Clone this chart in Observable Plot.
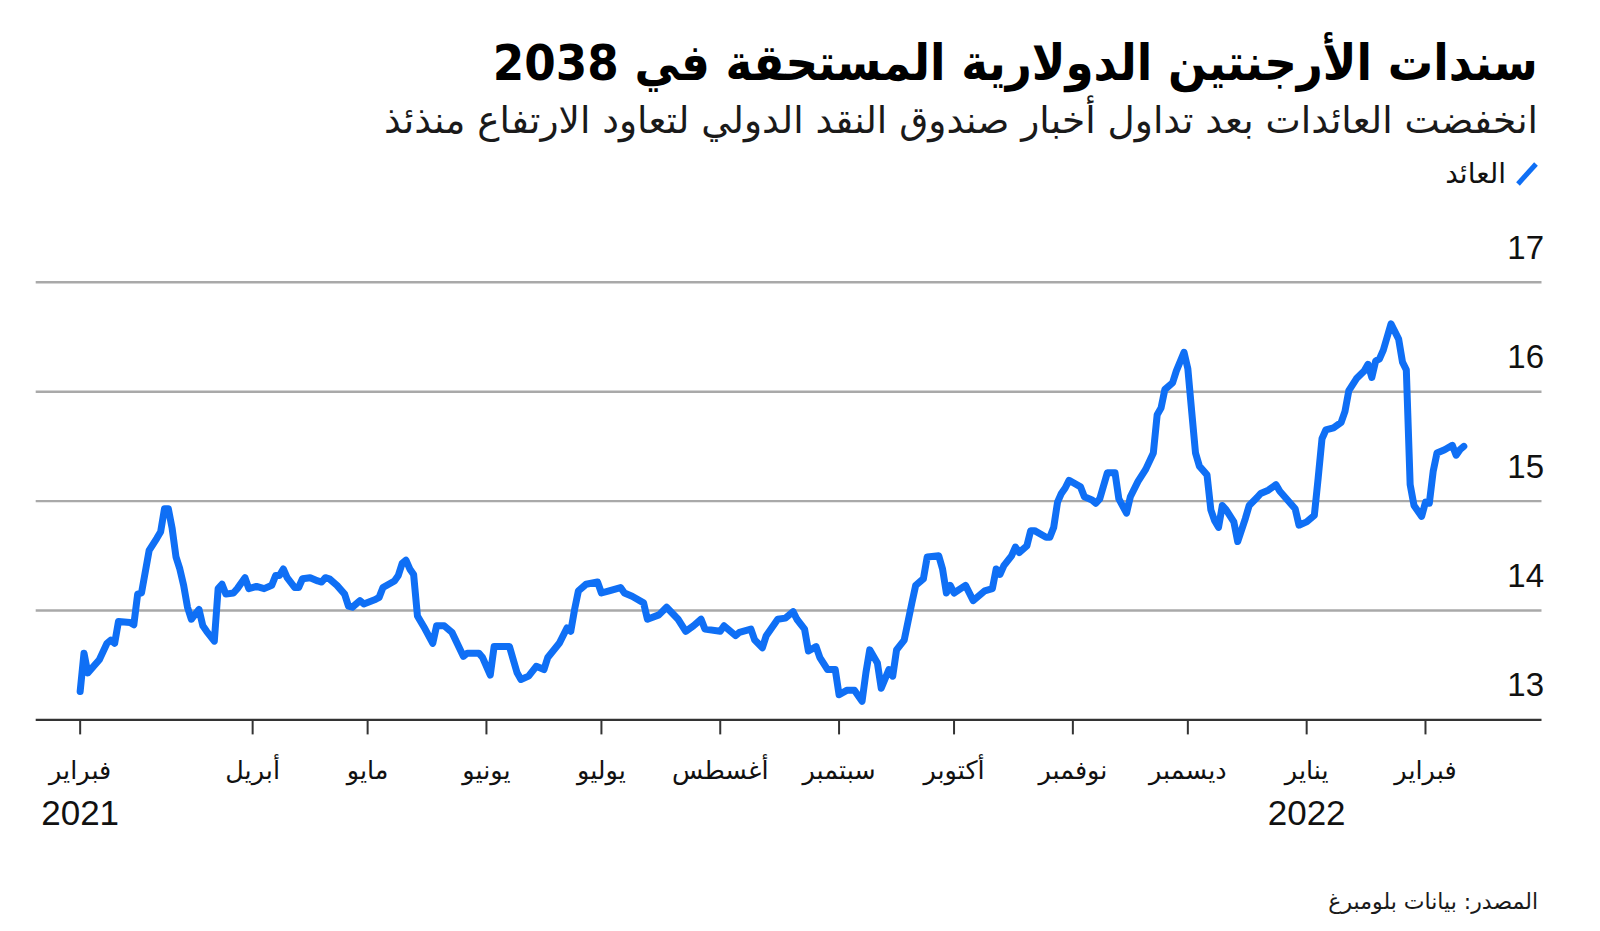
<!DOCTYPE html>
<html><head><meta charset="utf-8">
<script src="https://cdn.jsdelivr.net/npm/d3@7"></script>
<script src="https://cdn.jsdelivr.net/npm/@observablehq/plot@0.6"></script>
<style>
body{margin:0;background:#fff;font-family:"DejaVu Sans",sans-serif;}
#wrap{position:relative;width:1600px;height:931px;overflow:hidden;background:#fff;}
.t{position:absolute;right:62px;white-space:nowrap;direction:rtl;line-height:1;}
#title{top:38px;font-size:50px;font-weight:bold;color:#000;transform:scaleX(0.905);transform-origin:right center;}
#subtitle{top:102px;font-size:37.5px;color:#1a1a1a;}
#legend{top:160px;font-size:28px;color:#111;display:flex;align-items:center;gap:10px;}
#caption{top:891px;font-size:22px;color:#1a1a1a;}
#chart{position:absolute;left:0;top:200px;}
</style></head>
<body>
<div id="wrap">
  <div id="title" class="t">سندات الأرجنتين الدولارية المستحقة في 2038</div>
  <div id="subtitle" class="t">انخفضت العائدات بعد تداول أخبار صندوق النقد الدولي لتعاود الارتفاع منذئذ</div>
  <div id="legend" class="t"><svg width="22" height="24"><line x1="2" y1="22" x2="20" y2="2" stroke="#0f6ff5" stroke-width="5"/></svg><span>العائد</span></div>
  <div id="chart"></div>
  <div id="caption" class="t">المصدر: بيانات بلومبرغ</div>
</div>
<script>
// days since 15 Feb 2021
const startDate = "2021-02-15";
const dayOffsets = [0,1,2,5,7,8,9,10,13,14,15,16,18,20,21,22,23,24,25,26,27,28,29,31,32,33,35,36,37,38,40,41,43,44,46,48,50,51,52,53,54,56,57,58,60,62,63,64,65,67,69,70,71,73,74,77,78,79,82,83,84,85,86,87,88,90,92,93,95,97,100,101,104,105,107,108,112,114,115,117,119,121,122,125,127,128,129,130,132,135,136,138,141,142,144,147,148,151,153,156,158,160,162,163,167,168,171,172,175,176,178,179,182,184,186,187,189,190,192,193,195,197,198,200,202,204,205,206,208,209,211,212,213,215,217,218,220,221,224,225,226,227,228,231,233,236,238,239,240,241,243,244,245,247,248,249,252,253,254,255,256,257,258,261,262,264,265,266,268,270,271,273,274,276,278,280,281,282,283,285,286,288,289,290,291,292,294,295,296,297,298,299,301,302,304,305,307,308,310,312,313,315,317,318,320,322,323,324,325,327,329,330,331,333,335,336,337,338,339,340,342,344,345,346,347,348,350,351,352,353,354,356,358,359,360,361];
const yields = [13.26,13.61,13.43,13.55,13.70,13.73,13.70,13.90,13.89,13.87,14.15,14.16,14.55,14.66,14.72,14.93,14.93,14.75,14.49,14.38,14.23,14.03,13.92,14.01,13.86,13.81,13.72,14.20,14.24,14.15,14.16,14.20,14.30,14.20,14.22,14.20,14.23,14.32,14.32,14.38,14.30,14.21,14.21,14.29,14.30,14.27,14.26,14.30,14.29,14.23,14.15,14.04,14.03,14.09,14.06,14.10,14.12,14.21,14.27,14.32,14.43,14.46,14.38,14.33,13.95,13.83,13.70,13.86,13.86,13.80,13.58,13.61,13.61,13.57,13.41,13.67,13.67,13.43,13.37,13.40,13.49,13.46,13.57,13.70,13.84,13.81,14.01,14.18,14.24,14.26,14.16,14.18,14.21,14.16,14.13,14.07,13.92,13.96,14.03,13.92,13.81,13.86,13.92,13.83,13.81,13.86,13.77,13.80,13.83,13.73,13.66,13.77,13.92,13.93,13.99,13.92,13.83,13.63,13.67,13.57,13.46,13.46,13.23,13.27,13.27,13.17,13.43,13.64,13.52,13.29,13.46,13.40,13.64,13.73,14.07,14.23,14.29,14.49,14.50,14.38,14.16,14.23,14.16,14.23,14.09,14.18,14.20,14.38,14.33,14.41,14.50,14.58,14.53,14.59,14.73,14.73,14.67,14.67,14.76,14.99,15.07,15.12,15.19,15.13,15.04,15.01,14.98,15.02,15.26,15.26,15.02,14.89,15.04,15.18,15.29,15.44,15.79,15.85,16.02,16.08,16.19,16.36,16.21,15.82,15.44,15.32,15.24,14.92,14.82,14.76,14.96,14.92,14.81,14.63,14.84,14.96,15.03,15.07,15.10,15.15,15.09,15.01,14.93,14.78,14.81,14.87,15.21,15.57,15.65,15.67,15.72,15.82,16.01,16.12,16.19,16.25,16.13,16.28,16.30,16.38,16.62,16.48,16.27,16.20,15.15,14.96,14.86,14.99,14.98,15.27,15.44,15.47,15.51,15.42,15.47,15.50];

const monthTickDates = ["2021-02-15","2021-04-01","2021-05-01","2021-06-01","2021-07-01","2021-08-01","2021-09-01","2021-10-01","2021-11-01","2021-12-01","2022-01-01","2022-02-01"];
const monthLabels = ["فبراير","أبريل","مايو","يونيو","يوليو","أغسطس","سبتمبر","أكتوبر","نوفمبر","ديسمبر","يناير","فبراير"];
const yearTickDates = ["2021-02-15","2022-01-01"];
const yearLabels = ["2021","2022"];
const yTicks = [13,14,15,16,17];
const gridValues = [14,15,16,17];

const t0 = new Date(startDate + "T00:00:00Z").getTime();
const data = dayOffsets.map((d, i) => ({date: new Date(t0 + d * 864e5), value: yields[i]}));
const monthMap = new Map(monthTickDates.map((d, i) => [+new Date(d + "T00:00:00Z"), monthLabels[i]]));
const yearMap = new Map(yearTickDates.map((d, i) => [+new Date(d + "T00:00:00Z"), yearLabels[i]]));
const monthTicks = monthTickDates.map(d => new Date(d + "T00:00:00Z"));
const yearTicks = yearTickDates.map(d => new Date(d + "T00:00:00Z"));

const numFont = "'Liberation Sans', Arial, sans-serif";

const chart = Plot.plot({
  width: 1600,
  height: 650,
  marginLeft: 35.7,
  marginRight: 58.5,
  marginTop: 81.8,
  marginBottom: 130.6,
  x: {type: "utc", domain: [new Date("2021-02-03T12:43:00Z"), new Date("2022-03-03T09:36:00Z")]},
  y: {domain: [13, 17]},
  style: {fontFamily: "'DejaVu Sans', sans-serif", color: "#111", background: "#fff", overflow: "visible"},
  marks: [
    Plot.ruleY(gridValues, {stroke: "#a9a9a9", strokeWidth: 2.4}),
    Plot.axisY(yTicks, {anchor: "right", tickSize: 0, tickPadding: 0, textAnchor: "end", dx: 2, dy: -34, fontSize: 33, fontFamily: numFont, label: null, tickFormat: d => String(d)}),
    Plot.axisX(monthTicks, {anchor: "bottom", tickSize: 15, tickPadding: 26, tickFormat: d => monthMap.get(+d), fontSize: 25.5, stroke: "#333", strokeWidth: 2, label: null}),
    Plot.axisX(yearTicks, {anchor: "bottom", tickSize: 0, tickPadding: 80, tickFormat: d => yearMap.get(+d), fontSize: 35, fontFamily: numFont, label: null}),
    Plot.line(data, {x: "date", y: "value", stroke: "#0f6ff5", strokeWidth: 7, strokeLinejoin: "round", strokeLinecap: "round"}),
    Plot.ruleY([13], {stroke: "#333", strokeWidth: 2.4})
  ]
});
document.getElementById("chart").appendChild(chart);
</script>
</body></html>
